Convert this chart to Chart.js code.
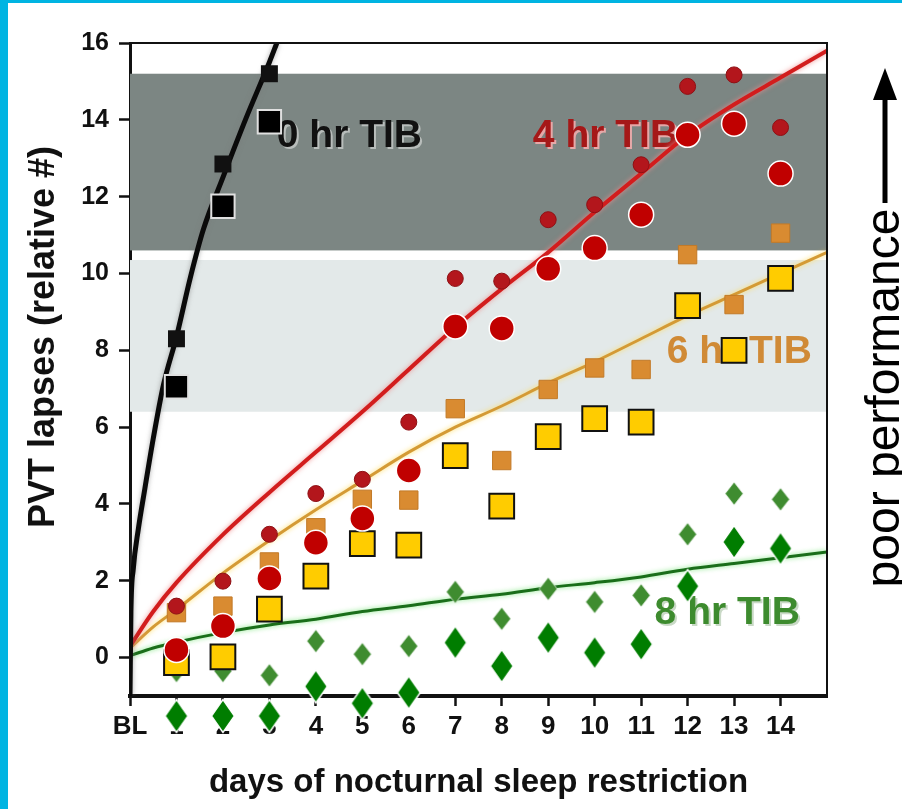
<!DOCTYPE html>
<html>
<head>
<meta charset="utf-8">
<script src="https://cdn.jsdelivr.net/npm/chart.js@4.4.1/dist/chart.umd.min.js"></script>
<style>
  html, body { margin: 0; padding: 0; background: #fff; }
  #wrap { width: 902px; height: 809px; }
</style>
</head>
<body>
<div id="wrap"><canvas id="chart1" width="902" height="809"></canvas></div>
<script>
// x axis: baseline + restriction days
const dayLabels = ["BL", "1", "2", "3", "4", "5", "6", "7", "8", "9", "10", "11", "12", "13", "14"];
const dayTicks = [0, 1, 2, 3, 4, 5, 6, 7, 8, 9, 10, 11, 12, 13, 14];
const yTicks = [0, 2, 4, 6, 8, 10, 12, 14, 16];

// measured points (days 1..14, 0 hr only days 1..3)
const zeroHrSmall = [8.3, 12.85, 15.2];
const zeroHrLarge = [7.05, 11.75, 13.95];
const fourHrSmall = [1.34, 1.99, 3.21, 4.27, 4.64, 6.13, 9.87, 9.8, 11.4, 11.79, 12.83, 14.87, 15.17, 13.8];
const fourHrLarge = [0.2, 0.82, 2.06, 2.99, 3.62, 4.87, 8.62, 8.57, 10.12, 10.66, 11.53, 13.61, 13.9, 12.6];
const sixHrSmall = [1.17, 1.34, 2.49, 3.38, 4.12, 4.1, 6.48, 5.13, 6.98, 7.54, 7.5, 10.49, 9.19, 11.05];
const sixHrLarge = [-0.13, 0.02, 1.26, 2.12, 2.97, 2.93, 5.26, 3.94, 5.75, 6.22, 6.13, 9.16, 8.0, 9.87];
const eightHrSmall = [-0.35, -0.35, -0.46, 0.43, 0.09, 0.3, 1.71, 1.01, 1.79, 1.45, 1.62, 3.21, 4.27, 4.12];
const eightHrLarge = [-1.52, -1.52, -1.52, -0.75, -1.19, -0.91, 0.39, -0.22, 0.52, 0.13, 0.35, 1.86, 3.01, 2.84];

// fitted curves
const zeroHrFitX = [0, 0.02, 0.07, 0.18, 0.32, 0.5, 0.72, 1, 1.3, 1.58, 2, 2.5, 3, 3.16];
const zeroHrFitY = [-1, 1.2, 2.3, 3.35, 4.4, 5.7, 7.1, 8.35, 9.9, 11.15, 12.5, 14.05, 15.5, 16];
const fourHrFitX = [0, 0.5, 1, 2, 3, 4, 5, 6, 7, 8, 9, 10, 11, 12, 13, 14, 15];
const fourHrFitY = [0.3, 1.2, 1.95, 3.2, 4.3, 5.35, 6.4, 7.5, 8.6, 9.6, 10.55, 11.6, 12.6, 13.6, 14.4, 15.1, 15.8];
const sixHrFitX = [0, 0.5, 1, 2, 3, 4, 5, 6, 7, 8, 9, 10, 11, 12, 13, 14, 15];
const sixHrFitY = [0.25, 0.8, 1.25, 2.2, 3.05, 3.85, 4.6, 5.35, 6.0, 6.55, 7.15, 7.7, 8.3, 8.9, 9.45, 10.0, 10.55];
const eightHrFitX = [0, 0.5, 1, 2, 3, 4, 5, 6, 7, 8, 9, 10, 11, 12, 13, 14, 15];
const eightHrFitY = [0.05, 0.25, 0.4, 0.65, 0.85, 1.0, 1.2, 1.35, 1.52, 1.65, 1.82, 1.95, 2.1, 2.3, 2.45, 2.6, 2.75];

// shaded performance bands [low, high]
const darkBand = [10.6, 15.2];
const lightBand = [6.4, 10.35];

const groupLabels = [
  { text: "0 hr TIB", x: 3.16, y: 13.3, color: "#111111", shade: "#b8bdbb" },
  { text: "4 hr TIB", x: 8.67, y: 13.3, color: "#a51818", shade: "#e6a8a8" },
  { text: "6 hr TIB", x: 11.55, y: 7.68, color: "#d08a36", shade: null },
  { text: "8 hr TIB", x: 11.29, y: 0.87, color: "#3d8b2e", shade: "#c9d9c6" }
];

function pts(xs, ys) { return ys.map((v, i) => ({ x: xs[i], y: v })); }
function byDay(ys) { return ys.map((v, i) => ({ x: i + 1, y: v })); }

function diamond(w, h, fill, stroke, lw) {
  const c = document.createElement("canvas");
  c.width = w + lw * 2 + 2; c.height = h + lw * 2 + 2;
  const g = c.getContext("2d");
  const cx = c.width / 2, cy = c.height / 2;
  g.beginPath();
  g.moveTo(cx, cy - h / 2); g.lineTo(cx + w / 2, cy); g.lineTo(cx, cy + h / 2); g.lineTo(cx - w / 2, cy);
  g.closePath();
  g.fillStyle = fill; g.fill();
  if (lw) { g.lineWidth = lw; g.strokeStyle = stroke; g.stroke(); }
  return c;
}
const bigDiamond = diamond(23, 33, "#007d00", "#ffffff", 1.5);
const smallDiamond = diamond(18, 23, "#3f8c30", "rgba(255,255,255,0.7)", 1);

const decor = {
  id: "decor",
  beforeDraw(chart) {
    const ctx = chart.ctx;
    ctx.save();
    ctx.fillStyle = "#ffffff";
    ctx.fillRect(0, 0, chart.width, chart.height);
    ctx.fillStyle = "#00b4e2";
    ctx.fillRect(0, 0, 8, chart.height);
    ctx.fillRect(0, 0, chart.width, 3);
    ctx.restore();
  },
  beforeDatasetsDraw(chart) {
    const { ctx, chartArea: a, scales: { y, x } } = chart;
    ctx.save();
    ctx.fillStyle = "#7c8683";
    ctx.fillRect(a.left, y.getPixelForValue(darkBand[1]), a.right - a.left, y.getPixelForValue(darkBand[0]) - y.getPixelForValue(darkBand[1]));
    ctx.fillStyle = "#e3e9e9";
    ctx.fillRect(a.left, y.getPixelForValue(lightBand[1]), a.right - a.left, y.getPixelForValue(lightBand[0]) - y.getPixelForValue(lightBand[1]));
    ctx.font = "bold 39px 'Liberation Sans', Arial, sans-serif";
    ctx.textAlign = "left";
    ctx.textBaseline = "alphabetic";
    groupLabels.forEach(l => {
      const px = x.getPixelForValue(l.x), py = y.getPixelForValue(l.y);
      if (l.shade) { ctx.fillStyle = l.shade; ctx.fillText(l.text, px + 2, py + 2); }
      ctx.fillStyle = l.color;
      ctx.fillText(l.text, px, py);
    });
    ctx.restore();
  },
  beforeDatasetDraw(chart, args) {
    const ds = chart.data.datasets[args.index];
    chart.ctx.save();
    if (ds.glow) { chart.ctx.shadowColor = ds.glow; chart.ctx.shadowBlur = 5; }
  },
  afterDatasetDraw(chart) {
    chart.ctx.restore();
  },
  afterDatasetsDraw(chart) {
    const { ctx, chartArea: a } = chart;
    ctx.save();
    ctx.strokeStyle = "#111";
    ctx.lineWidth = 2;
    ctx.beginPath();
    ctx.moveTo(a.left, a.top); ctx.lineTo(a.right, a.top); ctx.lineTo(a.right, a.bottom);
    ctx.stroke();
    ctx.restore();
  },
  afterDraw(chart) {
    const ctx = chart.ctx;
    ctx.save();
    ctx.fillStyle = "#111";
    // y axis title
    ctx.translate(54, 337);
    ctx.rotate(-Math.PI / 2);
    ctx.font = "bold 36px 'Liberation Sans', Arial, sans-serif";
    ctx.textAlign = "center";
    ctx.textBaseline = "alphabetic";
    ctx.fillText("PVT lapses (relative #)", 0, 0);
    ctx.restore();

    ctx.save();
    ctx.fillStyle = "#000";
    ctx.translate(899, 398);
    ctx.rotate(-Math.PI / 2);
    ctx.font = "48px 'Liberation Sans', Arial, sans-serif";
    ctx.textAlign = "center";
    ctx.fillText("poor performance", 0, 0);
    ctx.restore();

    // arrow
    ctx.save();
    ctx.strokeStyle = "#000";
    ctx.fillStyle = "#000";
    ctx.lineWidth = 5;
    ctx.beginPath();
    ctx.moveTo(885, 203); ctx.lineTo(885, 95);
    ctx.stroke();
    ctx.beginPath();
    ctx.moveTo(885, 68); ctx.lineTo(897, 100); ctx.lineTo(873, 100);
    ctx.closePath();
    ctx.fill();
    ctx.restore();
  }
};

const fitStyle = { showLine: true, pointRadius: 0, fill: false, cubicInterpolationMode: "monotone", order: 10 };

new Chart(document.getElementById("chart1").getContext("2d"), {
  type: "scatter",
  data: {
    datasets: [
      { ...fitStyle, label: "0 hr fit", data: pts(zeroHrFitX, zeroHrFitY), borderColor: "#0a0a0a", borderWidth: 5, glow: "rgba(120,120,120,0.6)" },
      { ...fitStyle, label: "4 hr fit", data: pts(fourHrFitX, fourHrFitY), borderColor: "#d21d1d", borderWidth: 4, glow: "rgba(240,140,140,0.9)" },
      { ...fitStyle, label: "6 hr fit", data: pts(sixHrFitX, sixHrFitY), borderColor: "#d49a35", borderWidth: 3, glow: "rgba(255,220,90,0.9)" },
      { ...fitStyle, label: "8 hr fit", data: pts(eightHrFitX, eightHrFitY), borderColor: "#1a6e1a", borderWidth: 3, glow: "rgba(120,230,120,0.9)" },

      { label: "0 hr prior", data: byDay(zeroHrSmall), pointStyle: "rect", pointRadius: 12, backgroundColor: "#111", borderColor: "#111", borderWidth: 0, order: 5 },
      { label: "4 hr prior", data: byDay(fourHrSmall), pointStyle: "circle", pointRadius: 8, backgroundColor: "#b3161c", borderColor: "#8e1014", borderWidth: 1, order: 5 },
      { label: "6 hr prior", data: byDay(sixHrSmall), pointStyle: "rect", pointRadius: 13, backgroundColor: "#d98b31", borderColor: "#c27a28", borderWidth: 1, order: 5 },
      { label: "8 hr prior", data: byDay(eightHrSmall), pointStyle: smallDiamond, pointRadius: 12, order: 5 },

      { label: "8 hr", data: byDay(eightHrLarge), pointStyle: bigDiamond, pointRadius: 26, clip: false, order: 3 },
      { label: "6 hr", data: byDay(sixHrLarge), pointStyle: "rect", pointRadius: 17.5, backgroundColor: "#ffcc00", borderColor: "#111", borderWidth: 2, order: 2 },
      { label: "4 hr", data: byDay(fourHrLarge), pointStyle: "circle", pointRadius: 12.5, backgroundColor: "#c00000", borderColor: "#ffffff", borderWidth: 1.5, order: 1 },
      { label: "0 hr", data: byDay(zeroHrLarge), pointStyle: "rect", pointRadius: 16.5, backgroundColor: "#000", borderColor: "#e0e0e0", borderWidth: 2, order: 1 }
    ]
  },
  options: {
    responsive: false,
    animation: false,
    devicePixelRatio: 1,
    layout: { padding: { left: 0, top: 43, right: 75, bottom: 0 } },
    plugins: { legend: { display: false }, tooltip: { enabled: false } },
    scales: {
      x: {
        type: "linear", min: 0, max: 15,
        afterFit: s => { s.height = 113; },
        afterBuildTicks: s => { s.ticks = dayTicks.map(v => ({ value: v })); },
        grid: { drawOnChartArea: false, drawTicks: true, tickLength: 10, tickWidth: 2.5, tickColor: "#111" },
        border: { display: true, color: "#111", width: 4 },
        ticks: {
          color: "#111", padding: 5, maxRotation: 0, autoSkip: false,
          font: { family: "'Liberation Sans', Arial, sans-serif", size: 26, weight: "bold" },
          callback: v => dayLabels[dayTicks.indexOf(v)]
        },
        title: {
          display: true, text: "days of nocturnal sleep restriction", color: "#111",
          font: { family: "'Liberation Sans', Arial, sans-serif", size: 33, weight: "bold" },
          padding: { top: 0, bottom: 6 }
        }
      },
      y: {
        type: "linear", min: -1, max: 16,
        afterFit: s => { s.width = 130; },
        afterBuildTicks: s => { s.ticks = yTicks.map(v => ({ value: v })); },
        grid: { drawOnChartArea: false, drawTicks: true, tickLength: 11, tickWidth: 2.5, tickColor: "#111" },
        border: { display: true, color: "#111", width: 3 },
        ticks: {
          color: "#111", padding: 10,
          font: { family: "'Liberation Sans', Arial, sans-serif", size: 25, weight: "bold" }
        }
      }
    }
  },
  plugins: [decor]
});
</script>
</body>
</html>
